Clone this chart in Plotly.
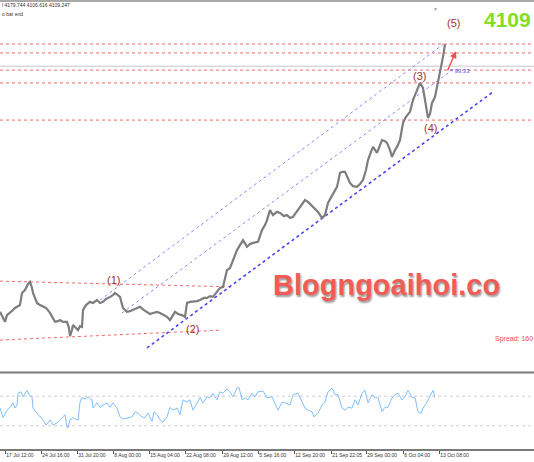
import plotly.graph_objects as go

PRICE_COLOR = "#7d7d7d"
RSI_COLOR = "#7fbfff"
LEVEL_COLOR = "#f06a6a"
WAVE_COLOR = "#a3322b"
CHANNEL_COLOR = "#8c8cff"
CHANNEL_MAIN_COLOR = "#4646ff"
TEXT_COLOR = "#333333"

# price path (bar position on the time axis, close price)
bar_x = [
    0, 3, 5, 7, 10, 13, 15, 18, 20, 22, 25, 28, 30, 32, 33, 35, 37, 40, 43, 46,
    50, 53, 55, 58, 60, 63, 67, 69, 70, 72, 73, 76, 78, 80, 82, 83, 86, 90, 93, 97,
    100, 103, 106, 110, 113, 115, 118, 120, 123, 127, 130, 133, 137, 140, 144, 147, 150, 153, 157, 160,
    164, 167, 170, 173, 175, 178, 182, 185, 187, 190, 193, 197, 200, 204, 207, 210, 213, 217, 220, 223,
    225, 227, 230, 233, 237, 240, 243, 247, 250, 253, 258, 262, 265, 267, 270, 273, 277, 280, 284, 287,
    290, 293, 297, 300, 303, 305, 308, 311, 313, 316, 318, 322, 325, 328, 332, 335, 337, 340, 342, 345,
    348, 350, 353, 357, 360, 363, 366, 368, 371, 373, 377, 380, 382, 385, 387, 390, 392, 395, 397, 400,
    403, 406, 410, 413, 417, 420, 423, 425, 427, 428, 430, 432, 435, 438, 440, 443, 445,
]
close = [
    3360, 3343, 3332, 3351, 3357, 3365, 3371, 3376, 3379, 3413, 3421, 3438, 3444, 3427, 3413, 3399, 3385, 3379, 3374, 3371,
    3357, 3343, 3332, 3334, 3337, 3332, 3332, 3315, 3292, 3309, 3323, 3315, 3309, 3320, 3318, 3365, 3379, 3388, 3385, 3393,
    3385, 3388, 3396, 3402, 3407, 3413, 3407, 3402, 3371, 3360, 3362, 3365, 3371, 3374, 3365, 3360, 3354, 3357, 3360, 3357,
    3351, 3346, 3337, 3351, 3360, 3354, 3351, 3346, 3385, 3388, 3388, 3390, 3393, 3399, 3399, 3404, 3402, 3416, 3427, 3430,
    3455, 3477, 3483, 3505, 3533, 3547, 3561, 3542, 3550, 3553, 3556, 3589, 3603, 3617, 3645, 3631, 3640, 3637, 3628, 3631,
    3623, 3626, 3642, 3654, 3665, 3673, 3668, 3659, 3654, 3645, 3640, 3623, 3631, 3665, 3687, 3701, 3710, 3749, 3752, 3752,
    3735, 3721, 3712, 3710, 3718, 3729, 3757, 3785, 3808, 3822, 3805, 3827, 3841, 3838, 3833, 3813, 3794, 3813, 3822, 3841,
    3889, 3906, 3920, 3953, 3981, 4001, 3987, 3953, 3925, 3903, 3914, 3945, 3962, 4001, 4032, 4074, 4109,
]

# oscillator in the lower pane
rsi_x = [
    0, 2, 3, 7, 10, 13, 15, 17, 18, 21, 23, 27, 29, 32, 33, 37, 40, 43, 46, 48,
    50, 53, 57, 60, 65, 67, 68, 70, 73, 77, 78, 80, 82, 85, 88, 92, 93, 97, 100, 103,
    107, 110, 113, 117, 120, 123, 128, 132, 135, 138, 142, 145, 148, 152, 154, 157, 160, 163, 167, 170,
    173, 177, 180, 183, 187, 190, 193, 197, 200, 203, 207, 210, 213, 217, 220, 223, 227, 230, 233, 237,
    239, 242, 245, 248, 252, 255, 258, 263, 267, 272, 275, 278, 282, 285, 290, 293, 298, 302, 305, 308,
    312, 314, 318, 322, 325, 328, 332, 335, 338, 342, 345, 348, 352, 355, 358, 362, 365, 368, 372, 375,
    378, 382, 385, 388, 392, 395, 398, 402, 405, 408, 412, 415, 418, 421, 423, 427, 430, 433, 435,
]
rsi = [
    54, 47, 41, 51, 55, 61, 54, 58, 74, 76, 69, 78, 72, 69, 54, 47, 42, 38, 31, 35,
    38, 31, 34, 38, 45, 28, 27, 38, 41, 38, 38, 62, 68, 66, 69, 65, 54, 61, 55, 58,
    61, 55, 61, 54, 42, 39, 41, 42, 49, 47, 42, 41, 47, 36, 49, 45, 38, 35, 42, 55,
    51, 54, 45, 65, 62, 65, 51, 62, 68, 61, 69, 68, 74, 65, 76, 74, 80, 76, 69, 81,
    82, 65, 68, 65, 74, 69, 76, 77, 68, 69, 61, 51, 62, 61, 58, 72, 74, 62, 54, 51,
    49, 42, 47, 58, 62, 76, 81, 72, 72, 54, 51, 55, 54, 65, 58, 74, 78, 61, 72, 68,
    68, 49, 55, 55, 68, 72, 74, 65, 69, 78, 68, 68, 49, 47, 54, 62, 69, 78, 68,
]
rsi_levels = [70, 30]

tick_pos = [5, 41, 77, 113, 149, 185, 222, 258, 294, 331, 366, 403, 439]
tick_text = [
    "17 Jul 12:00", "24 Jul 16:00", "31 Jul 20:00", "8 Aug 00:00", "15 Aug 04:00",
    "22 Aug 08:00", "29 Aug 12:00", "5 Sep 16:00", "12 Sep 20:00", "21 Sep 22:05",
    "29 Sep 00:00", "6 Oct 04:00", "13 Oct 08:00",
]

# horizontal levels (full width) and the bid line
levels = [4110, 4085, 4037, 4001, 3897]
bid_line = 4048

# channel lines: (x0, x1), (price0, price1)
channel_upper = ([100, 445], [3393, 4113])
channel_mid = ([122, 455], [3357, 4043])
channel_low = ([147, 493], [3259, 3976])
range_top = ([0, 232], [3446, 3430])
range_bottom = ([0, 222], [3281, 3309])

waves = ["(1)", "(2)", "(3)", "(4)", "(5)"]
wave_x = [113, 192, 419, 430, 453]
wave_y = [3449, 3312, 4020, 3875, 4168]

fig = go.Figure()

for (xs, ys), color, width in [
    (range_top, LEVEL_COLOR, 1),
    (range_bottom, LEVEL_COLOR, 1),
    (channel_upper, CHANNEL_COLOR, 1),
    (channel_mid, CHANNEL_COLOR, 1),
    (channel_low, CHANNEL_MAIN_COLOR, 1.6),
]:
    fig.add_trace(
        go.Scatter(x=xs, y=ys, mode="lines", line=dict(color=color, width=width, dash="dot"),
                   hoverinfo="skip", showlegend=False)
    )

fig.add_trace(
    go.Scatter(x=bar_x, y=close, mode="lines", line=dict(color=PRICE_COLOR, width=2.2),
               name="XAUUSD", showlegend=False)
)
fig.add_trace(
    go.Scatter(x=rsi_x, y=rsi, mode="lines", yaxis="y2", line=dict(color=RSI_COLOR, width=1),
               name="RSI", showlegend=False)
)

shapes = [
    dict(type="rect", xref="paper", yref="paper", x0=0, x1=1, y0=0.9955, y1=1.04,
         fillcolor="#a9a9a9", line=dict(width=0), layer="above"),
    dict(type="line", xref="paper", yref="y", x0=0, x1=1, y0=bid_line, y1=bid_line,
         line=dict(color="#c8c8c8", width=1), layer="below"),
    dict(type="line", xref="paper", yref="paper", x0=0, x1=1, y0=0.1705, y1=0.1705,
         line=dict(color="#7a7a7a", width=2)),
]
for lvl in levels:
    shapes.append(dict(type="line", xref="paper", yref="y", x0=0, x1=1, y0=lvl, y1=lvl,
                       line=dict(color=LEVEL_COLOR, width=1, dash="dot"), layer="below"))
for lvl in rsi_levels:
    shapes.append(dict(type="line", xref="paper", yref="y2", x0=0, x1=1, y0=lvl, y1=lvl,
                       line=dict(color="#cfcfcf", width=1, dash="dot"), layer="below"))

annotations = [
    dict(x=wx, y=wy, xref="x", yref="y", text=t, showarrow=False,
         font=dict(family="Liberation Sans, Arial", size=11, color=WAVE_COLOR))
    for t, wx, wy in zip(waves, wave_x, wave_y)
]
annotations += [
    dict(x=456, y=4090, ax=447, ay=4032, xref="x", yref="y", axref="x", ayref="y",
         text="", showarrow=True, arrowhead=2, arrowsize=1, arrowwidth=1.4, arrowcolor="#f05050"),
    dict(x=448, y=4034, xref="x", yref="y", xanchor="left", text="^ 99.33", showarrow=False,
         font=dict(family="Liberation Sans, Arial", size=6, color="#5050ff")),
    dict(x=533, y=0.986, xref="x", yref="paper", xanchor="right", yanchor="top",
         text="<b>4109</b>", showarrow=False,
         font=dict(family="Liberation Sans, Arial", size=21, color="#7fdf22")),
    dict(x=386, y=3435, xref="x", yref="y", text="<b>Blogngoaihoi.co</b>", showarrow=False,
         font=dict(family="Liberation Sans, Arial", size=29, color="#f25c54",
                   shadow="1px 2px 2px #9a9a9a")),
    dict(x=493, y=3283, xref="x", yref="y", xanchor="left", text="Spread: 160",
         showarrow=False, font=dict(family="Liberation Sans, Arial", size=7, color="#f04848")),
    dict(x=0, y=0.988, xref="paper", yref="paper", xanchor="left", yanchor="middle",
         text="l 4179.744 4106.616 4109.247", showarrow=False,
         font=dict(family="Liberation Sans, Arial", size=5, color=TEXT_COLOR)),
    dict(x=0, y=0.969, xref="paper", yref="paper", xanchor="left", yanchor="middle",
         text="o bar end", showarrow=False,
         font=dict(family="Liberation Sans, Arial", size=5, color=TEXT_COLOR)),
    dict(x=435, y=0.992, xref="x", yref="paper", yanchor="top", text="▼", showarrow=False,
         font=dict(size=5, color="#9a9a9a")),
]

fig.update_layout(
    width=534,
    height=462,
    margin=dict(l=0, r=0, t=0, b=13),
    paper_bgcolor="white",
    plot_bgcolor="white",
    showlegend=False,
    xaxis=dict(
        range=[0, 534],
        anchor="y2",
        showgrid=False,
        zeroline=False,
        showline=True,
        linecolor="#7a7a7a",
        linewidth=1.5,
        tickmode="array",
        tickvals=tick_pos,
        ticktext=tick_text,
        tickangle=0,
        ticks="outside",
        ticklen=3,
        tickcolor="#555555",
        ticklabelposition="outside right",
        tickfont=dict(family="Liberation Sans, Arial", size=5, color=TEXT_COLOR),
    ),
    yaxis=dict(domain=[0.1715, 0.9955], range=[3191.6, 4227.6], visible=False),
    yaxis2=dict(domain=[0, 0.167], range=[-1.4, 100], visible=False),
    shapes=shapes,
    annotations=annotations,
)

# the page's default body margin would shift the chart by 8px
fig.write_html(
    "out.html",
    config={"displayModeBar": False},
    post_script="document.body.style.margin='0';document.body.style.overflow='hidden';",
)
